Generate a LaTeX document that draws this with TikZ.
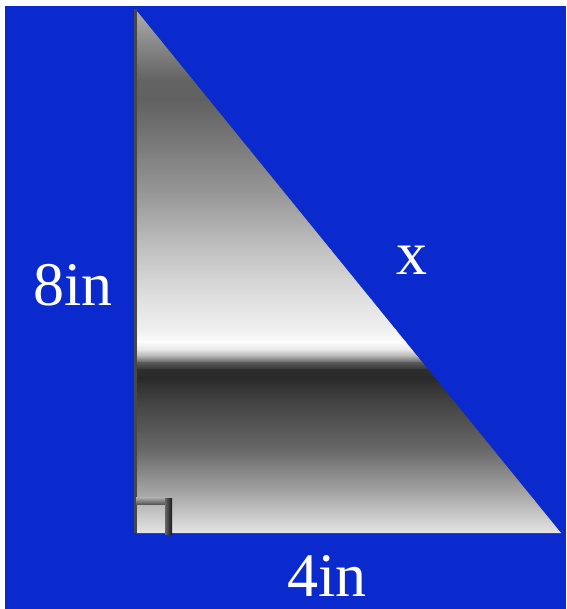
\documentclass[tikz,border=0pt]{standalone}
\usepackage{fontspec}
\setmainfont{Liberation Serif}
\definecolor{bgblue}{RGB}{10,42,206}
\begin{document}
\begin{tikzpicture}[x=1pt,y=-1pt,
  lbl/.style={text=white,font=\fontsize{62}{62}\selectfont,inner sep=0pt,anchor=base}]
\useasboundingbox (0,0) rectangle (566,609);
\fill[white] (0,0) rectangle (566,609);
\fill[bgblue] (5,6) rectangle (566,609);
% triangle vertices
\coordinate (A) at (136,10);
\coordinate (B) at (136,533);
\coordinate (C) at (561,533);
\begin{scope}
\clip (A) -- (B) -- (C) -- cycle;
\foreach \ya/\ga/\yb/\gb in {
  8/69/40/55, 40/55/80/39, 80/39/100/38, 100/38/150/49, 150/49/200/61,
  200/61/250/76, 250/76/300/88, 300/88/330/94, 330/94/342/99, 342/99/350/90,
  350/90/357/67, 357/67/363/35, 363/35/370/18, 370/18/378/16.5, 378/16.5/400/25.5,
  400/25.5/450/41, 450/41/500/69, 500/69/535/91}
  {\shade[top color=white!\ga!black, bottom color=white!\gb!black] (130,\ya-0.4) rectangle (570,\yb+0.4);}
\end{scope}
% left edge
\draw[line width=3pt,color=black!72] (135.5,9) -- (135.5,533);
% right-angle marker
\shade[top color=black!30, bottom color=black!65] (136,497) rectangle (167,504);
\shade[left color=black!60, right color=black!90] (165,498) rectangle (172,534);
% labels
\node[lbl] (l8) at (73,305) {8in};
\node[lbl] (lx) at (412,274) {x};
\node[lbl] (l4) at (327,596) {4in};
\end{tikzpicture}
\end{document}
